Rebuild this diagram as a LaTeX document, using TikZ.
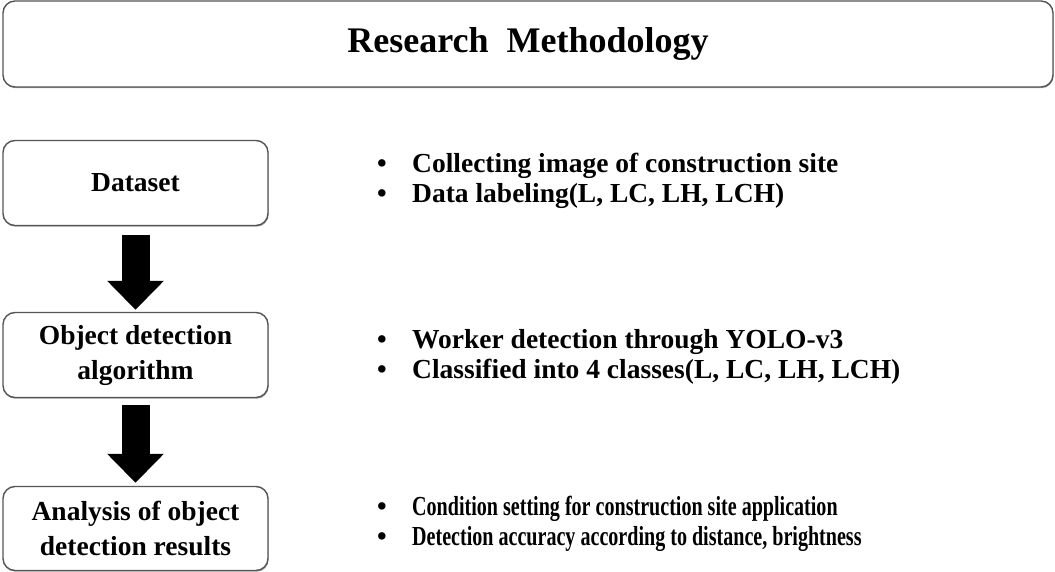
\documentclass[tikz,border=0pt]{standalone}
\usepackage{fontspec}
\setmainfont{Liberation Serif}
\newfontfamily\narrowserif[FakeStretch=0.73]{Liberation Serif}
\usetikzlibrary{arrows.meta,positioning,shadows}
\definecolor{Frame}{HTML}{555555}
\tikzset{
  boxbase/.style={draw=Frame,line width=1.4pt,rounded corners=12pt,fill=white,align=center,inner sep=0pt,
    drop shadow={shadow xshift=0.6pt,shadow yshift=-1.2pt,opacity=0.35,fill=black}},
  titlebox/.style={boxbase,minimum width=1050pt,minimum height=86pt,font=\fontsize{36}{40}\selectfont\bfseries},
  stagebox/.style={boxbase,minimum width=265pt,minimum height=85pt,font=\fontsize{27.5}{35}\selectfont\bfseries},
  itemline/.style={anchor=base west,inner sep=0pt,font=\fontsize{27.5}{30}\selectfont\bfseries},
  downarrow/.style={-{Triangle[length=29pt,width=55pt]},line width=28pt,draw=black},
}
\newcommand{\itembullet}{\makebox[35pt][l]{\textbullet}}

\begin{document}
\begin{tikzpicture}[x=1pt,y=-1pt]
    \useasboundingbox (0,0) rectangle (1055,572);

    \node[titlebox] (title) at (528,44) {Research\ \ Methodology};

    \node[stagebox] (data) at (135.5,183) {Dataset};
    \node[stagebox] (algo) at (135.5,355) {Object detection\\algorithm};
    \node[stagebox,minimum height=84pt] (result) at (135.5,528.5) {Analysis of object\\detection results};

    \draw[downarrow] ([yshift=-9pt]data.south) -- ([yshift=2pt]algo.north);
    \draw[downarrow] ([yshift=-7pt]algo.south) -- ([yshift=3pt]result.north);

    \node[itemline] (dataA) at (377,173) {\itembullet Collecting image of construction site};
    \node[itemline] (dataB) at (377,203) {\itembullet Data labeling(L, LC, LH, LCH)};

    \node[itemline] (algoA) at (377,348) {\itembullet Worker detection through YOLO-v3};
    \node[itemline] (algoB) at (377,378) {\itembullet Classified into 4 classes(L, LC, LH, LCH)};

    \node[itemline] (resultA) at (377,515) {\itembullet{\narrowserif\bfseries Condition setting for construction site application}};
    \node[itemline] (resultB) at (377,545) {\itembullet{\narrowserif\bfseries Detection accuracy according to distance, brightness}};
  \end{tikzpicture}
\end{document}
